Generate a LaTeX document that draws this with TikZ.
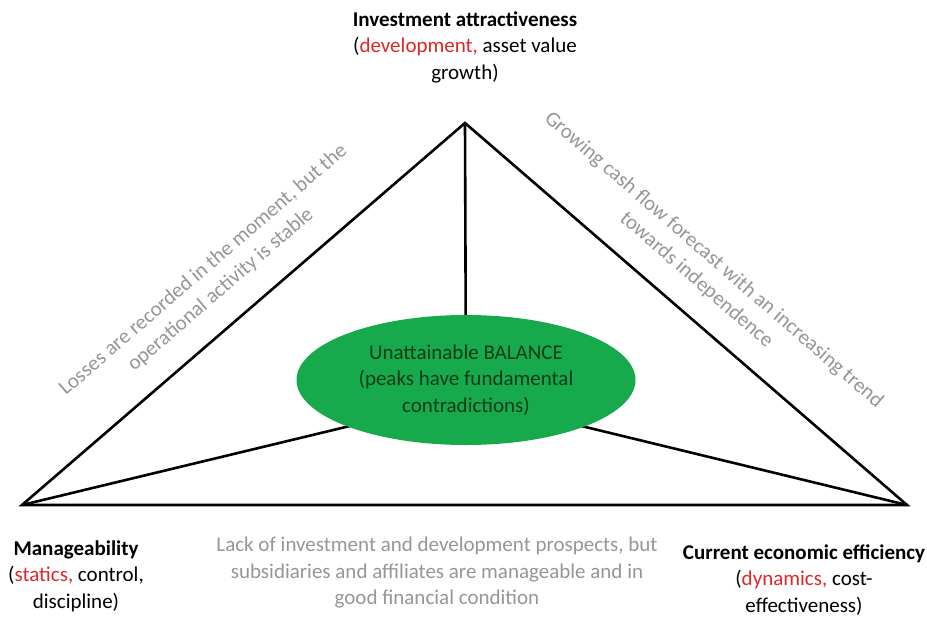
\documentclass[tikz,border=0pt]{standalone}
\usepackage{fontspec}
\setmainfont{Carlito}
\usepackage{xcolor}
\usetikzlibrary{shapes.geometric}
\definecolor{PeakRed}{RGB}{222,40,40}
\definecolor{NoteGray}{RGB}{150,150,150}
\definecolor{BalanceGreen}{RGB}{22,170,76}
\definecolor{DarkGreen}{RGB}{10,60,25}

\begin{document}
\begin{tikzpicture}[x=1pt, y=-1pt, every node/.style={font=\fontsize{21}{26.5}\selectfont}]
  \tikzstyle{edge}=[draw=black, line width=2.6pt]
  \tikzstyle{peak}=[align=center, inner sep=0pt]
  \tikzstyle{note}=[align=center, inner sep=0pt, text=NoteGray]
  \tikzstyle{balance}=[ellipse, fill=BalanceGreen, text=DarkGreen, align=center,
                       minimum width=339pt, minimum height=130pt, inner sep=0pt]
  \useasboundingbox (0,0) rectangle (927,619);
  % corners of the triangle and the hidden hub under the ellipse
  \coordinate (top)   at (465,123);
  \coordinate (left)  at (22,505);
  \coordinate (right) at (907,505);
  \coordinate (hub)   at (466,398);
  \draw[edge] (left) -- (top) -- (right) -- cycle;
  \draw[edge] (top) -- (hub);
  \draw[edge] (left) -- (hub);
  \draw[edge] (right) -- (hub);
  \node[balance] (bal) at (466,380)
    {Unattainable BALANCE\\(peaks have fundamental\\contradictions)};
  % peaks
  \node[peak] (invest) at (465,47)
    {\textbf{Investment attractiveness}\\(\textcolor{PeakRed}{development,} asset value\\growth)};
  \node[peak] (manage) at (76,576)
    {\textbf{Manageability}\\(\textcolor{PeakRed}{statics,} control,\\discipline)};
  \node[peak] (effic) at (804,580)
    {\textbf{Current economic efficiency}\\(\textcolor{PeakRed}{dynamics,} cost-\\effectiveness)};
  % notes along the sides
  \node[note, rotate=40.8] (losses) at (212,280)
    {Losses are recorded in the moment, but the\\operational activity is stable};
  \node[note, rotate=-40.9] (cash) at (705,270)
    {Growing cash flow forecast with an increasing trend\\towards independence};
  \node[note] (lack) at (437,573)
    {Lack of investment and development prospects, but\\subsidiaries and affiliates are manageable and in\\good financial condition};
\end{tikzpicture}
\end{document}
